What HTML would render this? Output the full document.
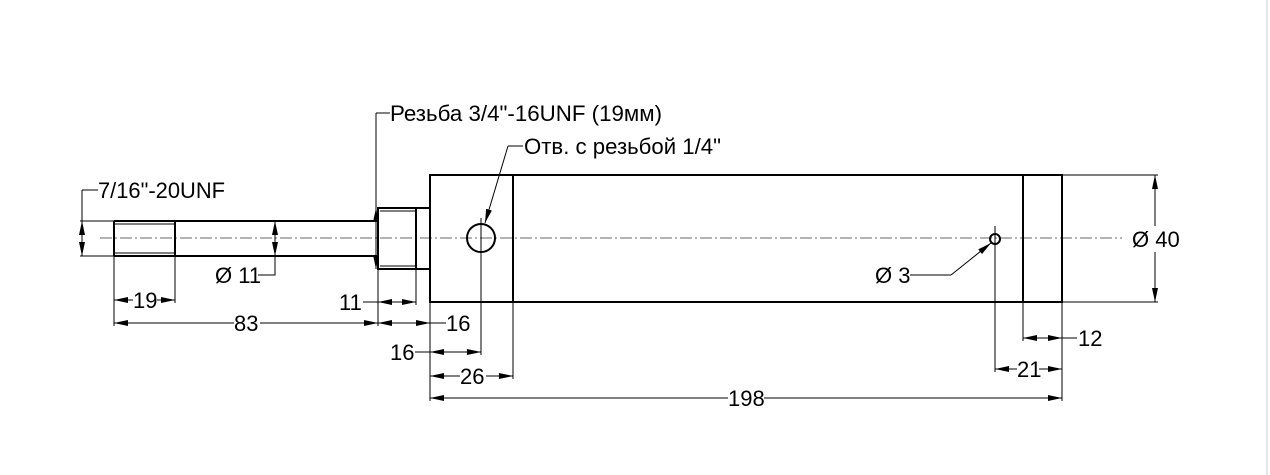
<!DOCTYPE html>
<html><head><meta charset="utf-8"><style>
html,body{margin:0;padding:0;background:#fff;width:1270px;height:475px;overflow:hidden}
svg{display:block}
text{font-family:"Liberation Sans","Noto Sans CJK SC",sans-serif;font-size:22px;fill:#000}
</style></head><body>
<svg width="1270" height="475" viewBox="0 0 1270 475" xmlns="http://www.w3.org/2000/svg">
<defs>
<marker id="a" viewBox="0 0 14 6" refX="14" refY="3" markerWidth="14" markerHeight="6" orient="auto-start-reverse" markerUnits="userSpaceOnUse"><path d="M0,0 L14,3 L0,6 z" fill="#000"/></marker>
</defs>
<line x1="1267" y1="0" x2="1267" y2="475" stroke="#ccc" stroke-width="1"/>
<line x1="100" y1="238" x2="1122" y2="238" stroke="#666" stroke-width="1" stroke-dasharray="12,3,2,3"/>
<g stroke="#000" fill="none">
<g stroke-width="2">
<line x1="114" y1="221" x2="378" y2="221"/><line x1="114" y1="256" x2="378" y2="256"/>
<line x1="114" y1="221" x2="114" y2="256"/><line x1="175" y1="221" x2="175" y2="256"/>
<rect x="378" y="208" width="52" height="61"/>
<line x1="416" y1="208" x2="416" y2="269"/>
<rect x="430" y="175" width="632" height="127"/>
<line x1="513" y1="175" x2="513" y2="302"/>
<line x1="1023" y1="175" x2="1023" y2="302"/>
<circle cx="481" cy="238" r="14"/>
<circle cx="995" cy="239" r="5"/>
</g>
<g stroke-width="1">
<line x1="114" y1="224" x2="175" y2="224"/><line x1="114" y1="253" x2="175" y2="253"/>
<line x1="380" y1="211" x2="416" y2="211"/><line x1="380" y1="266" x2="416" y2="266"/>
<line x1="481" y1="218" x2="481" y2="258"/>
<line x1="995" y1="226" x2="995" y2="252"/>
<line x1="80" y1="221" x2="114" y2="221"/><line x1="80" y1="256" x2="114" y2="256"/>
<line x1="114" y1="256" x2="114" y2="326"/><line x1="175" y1="256" x2="175" y2="303"/>
<line x1="378" y1="269" x2="378" y2="326"/><line x1="416" y1="269" x2="416" y2="305"/>
<line x1="430" y1="302" x2="430" y2="401"/><line x1="481" y1="252" x2="481" y2="355"/>
<line x1="513" y1="302" x2="513" y2="379"/>
<line x1="995" y1="244" x2="995" y2="372"/><line x1="1023" y1="302" x2="1023" y2="341"/>
<line x1="1062" y1="302" x2="1062" y2="401"/>
<line x1="1062" y1="175" x2="1158" y2="175"/><line x1="1062" y1="302" x2="1158" y2="302"/>
<line x1="82" y1="190" x2="98" y2="190"/><line x1="82" y1="190" x2="82" y2="221"/>
<line x1="82" y1="221" x2="82" y2="256" marker-start="url(#a)" marker-end="url(#a)"/>
<line x1="275" y1="221" x2="275" y2="256" marker-start="url(#a)" marker-end="url(#a)"/>
<polyline points="275,256 275,275 258,275"/>
<line x1="114" y1="300" x2="175" y2="300" marker-start="url(#a)" marker-end="url(#a)"/>
<line x1="114" y1="323" x2="378" y2="323" marker-start="url(#a)" marker-end="url(#a)"/>
<line x1="363" y1="302" x2="378" y2="302"/>
<line x1="378" y1="302" x2="416" y2="302" marker-end="url(#a)" marker-start="url(#a)"/>
<line x1="378" y1="323" x2="430" y2="323" marker-start="url(#a)" marker-end="url(#a)"/>
<line x1="430" y1="323" x2="446" y2="323"/>
<line x1="415" y1="352" x2="430" y2="352"/>
<line x1="430" y1="352" x2="481" y2="352" marker-start="url(#a)" marker-end="url(#a)"/>
<line x1="430" y1="376" x2="513" y2="376" marker-start="url(#a)" marker-end="url(#a)"/>
<line x1="430" y1="398" x2="1062" y2="398" marker-start="url(#a)" marker-end="url(#a)"/>
<line x1="1023" y1="338" x2="1062" y2="338" marker-start="url(#a)" marker-end="url(#a)"/>
<line x1="1062" y1="338" x2="1077" y2="338"/>
<line x1="995" y1="369" x2="1062" y2="369" marker-start="url(#a)" marker-end="url(#a)"/>
<line x1="1155" y1="175" x2="1155" y2="302" marker-start="url(#a)" marker-end="url(#a)"/>
<line x1="376" y1="113" x2="390" y2="113"/>
<line x1="376" y1="113" x2="376" y2="208"/>
<line x1="376" y1="208" x2="376" y2="269" marker-start="url(#a)" marker-end="url(#a)"/>
<line x1="508" y1="146" x2="523" y2="146"/>
<line x1="508" y1="146" x2="485" y2="223" marker-end="url(#a)"/>
<polyline points="910,275 951,275"/>
<line x1="951" y1="275" x2="991" y2="243" marker-end="url(#a)"/>
</g>
</g>
<g fill="#fff">
<rect x="133" y="290" width="24" height="20"/>
<rect x="234" y="313" width="26" height="20"/>
<rect x="460" y="366" width="26" height="20"/>
<rect x="728" y="388" width="36" height="20"/>
<rect x="1017" y="359" width="22" height="20"/>
<rect x="1130" y="226" width="50" height="26"/>
</g>
<text x="98" y="198" textLength="127" lengthAdjust="spacingAndGlyphs">7/16"-20UNF</text>
<text x="390" y="121" textLength="272" lengthAdjust="spacingAndGlyphs">Резьба 3/4"-16UNF (19мм)</text>
<text x="524" y="154" textLength="197" lengthAdjust="spacingAndGlyphs">Отв. с резьбой 1/4"</text>
<text x="215" y="283">Ø 11</text>
<text x="133" y="308">19</text>
<text x="234" y="331">83</text>
<text x="339" y="310">11</text>
<text x="446" y="331">16</text>
<text x="390" y="360">16</text>
<text x="460" y="384">26</text>
<text x="728" y="406">198</text>
<text x="875" y="283">Ø 3</text>
<text x="1078" y="346">12</text>
<text x="1017" y="377">21</text>
<text x="1132" y="247">Ø 40</text>
</svg>
</body></html>
